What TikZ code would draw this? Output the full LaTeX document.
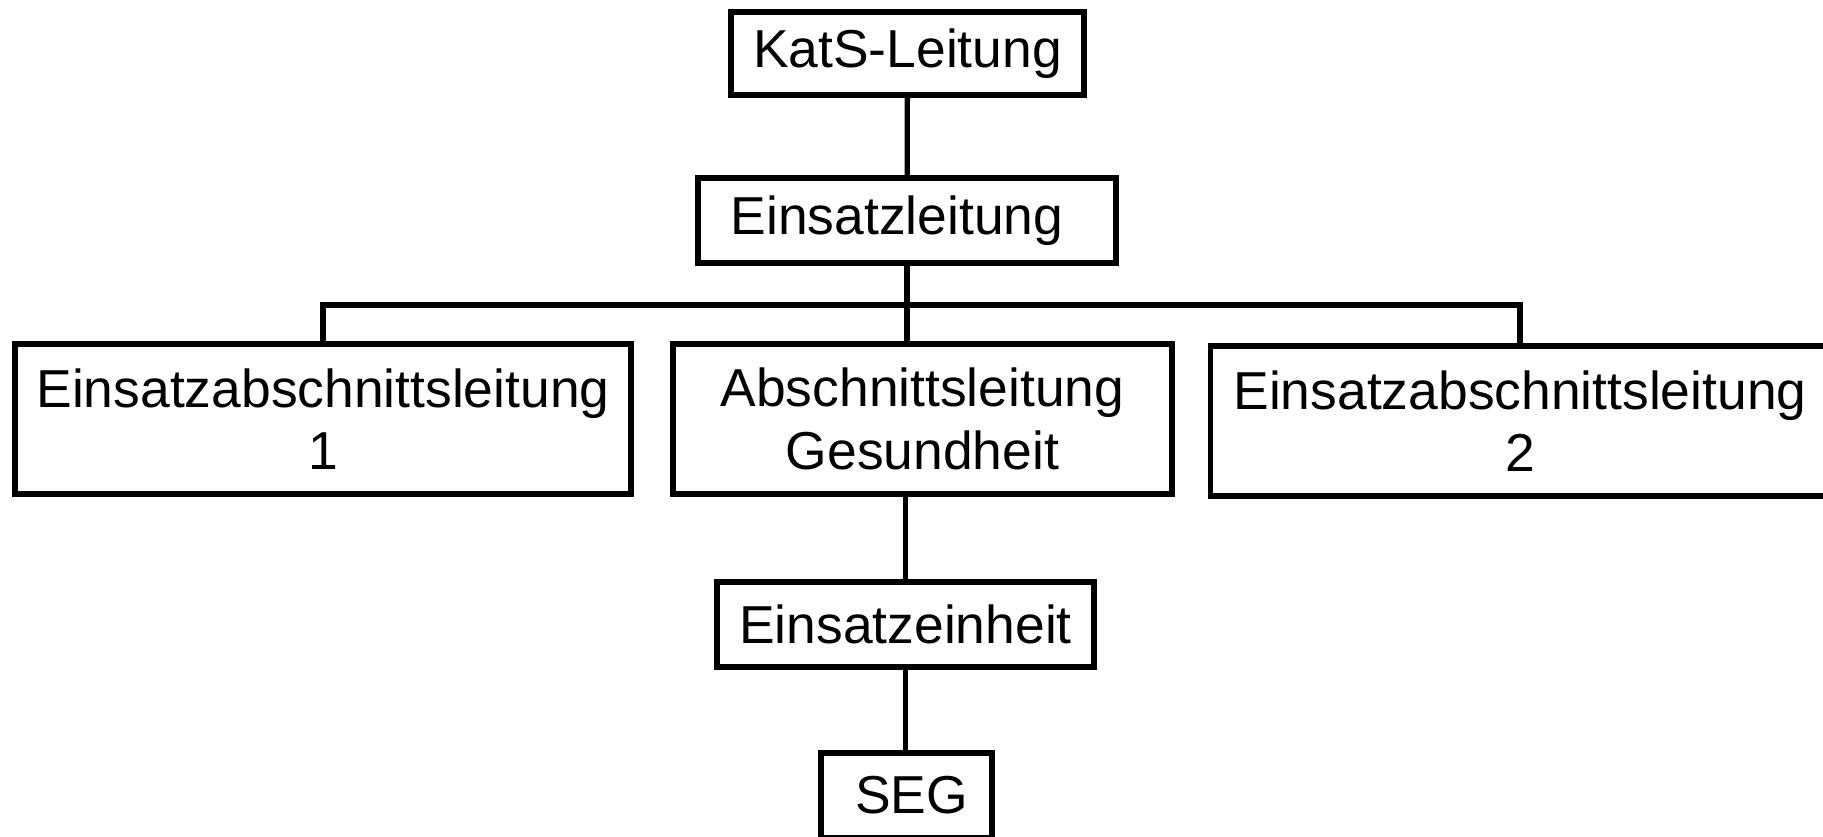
\documentclass[tikz,border=0pt]{standalone}
\usepackage{fontspec}
\setmainfont{Liberation Sans}

\begin{document}
\begin{tikzpicture}[x=0.02cm, y=-0.02cm, line width=3pt,
  font=\fontsize{30.4}{35.5}\selectfont,
  box/.style={draw, align=center, inner sep=0pt, minimum height=1.7cm},
  wide/.style={box, minimum height=3cm}]
\useasboundingbox (0,0) rectangle (1823,836);
\node[box, minimum width=7.06cm, minimum height=1.66cm] (kats) at (907.5,53.5) {KatS-Leitung};
\node[box, minimum width=8.36cm] (el) at (907,220.5) {Einsatzleitung\hspace{0.4cm}};
\node[wide, minimum width=12.32cm] (eal1) at (323,419) {Einsatzabschnittsleitung\\1};
\node[wide, minimum width=9.98cm] (alg) at (922.5,419) {Abschnittsleitung\\Gesundheit};
\node[wide, minimum width=12.38cm] (eal2) at (1520,421) {Einsatzabschnittsleitung\\2};
\node[box, minimum width=7.54cm] (ee) at (905.5,624.5) {Einsatzeinheit};
\node[box, minimum width=3.42cm] (seg) at (906.5,795.5) {\hspace{0.2cm}SEG};
\coordinate (bus) at (907,305);
\draw (kats) -- (el);
\draw (el.south) -- (el.south |- alg.north);
\draw (eal1.north) |- (eal2.north |- bus) -- (eal2.north);
\draw (ee.north |- alg.south) -- (ee.north);
\draw (ee.south) -- (ee.south |- seg.north);
\end{tikzpicture}
\end{document}
